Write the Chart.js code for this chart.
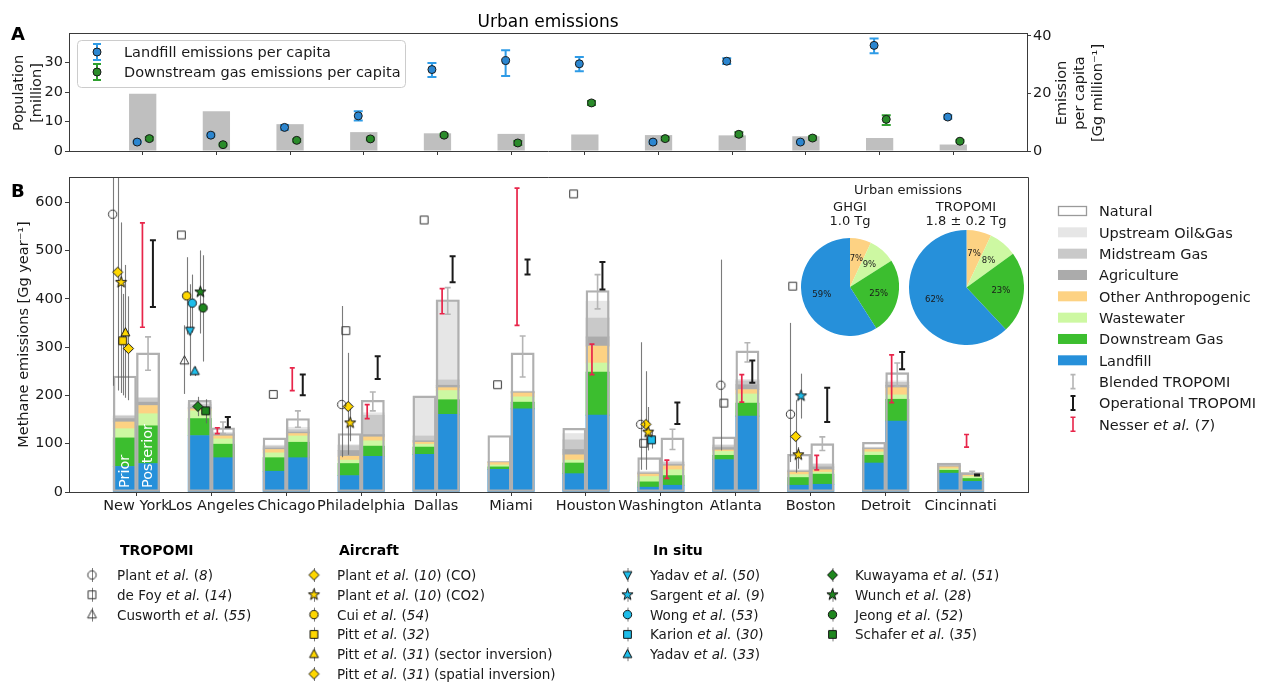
<!DOCTYPE html>
<html><head><meta charset="utf-8">
<script src="https://cdn.jsdelivr.net/npm/chart.js@4.4.0/dist/chart.umd.min.js"></script>
<style>
html,body{margin:0;padding:0;background:#fff;}
#wrap{position:relative;width:1265px;height:684px;overflow:hidden;background:#fff;}
canvas{position:absolute;}
</style></head><body>
<div id="wrap">
<canvas id="cB" width="1265" height="684" style="left:0;top:0"></canvas>
<canvas id="cA" width="1265" height="165" style="left:0;top:0"></canvas>
<canvas id="pieG" width="98" height="98" style="left:801px;top:238px"></canvas>
<canvas id="pieT" width="115" height="115" style="left:909px;top:230px"></canvas>
</div>
<script>
// ---------------- DATA ----------------
const cities = ['New York','Los Angeles','Chicago','Philadelphia','Dallas','Miami','Houston','Washington','Atlanta','Boston','Detroit','Cincinnati'];

// Panel A
const population = [19.4, 13.5, 9.1, 6.4, 6.0, 5.8, 5.6, 5.4, 5.3, 5.0, 4.4, 2.2];
const landfillPC   = [3.1, 5.5, 8.2, 12.2, 28.3, 31.4, 30.3, 3.1, 31.2, 3.1, 36.7, 11.8];
const landfillPCLo = [2.7, 5.0, 7.4, 10.6, 25.7, 26.1, 27.7, 2.6, 30.2, 2.6, 34.0, 11.2];
const landfillPCHi = [3.5, 6.0, 9.0, 13.8, 30.6, 35.0, 32.7, 3.6, 32.2, 3.6, 39.1, 12.4];
const gasPC   = [4.3, 2.2, 3.7, 4.2, 5.5, 2.8, 16.7, 4.3, 5.8, 4.5, 11.0, 3.4];
const gasPCLo = [3.7, 1.8, 3.2, 3.7, 5.0, 2.1, 16.0, 3.7, 5.1, 3.9, 9.0, 3.0];
const gasPCHi = [4.9, 2.6, 4.2, 4.7, 6.0, 3.5, 17.4, 4.9, 6.5, 5.1, 12.4, 3.8];
const popTicks = [0, 10, 20, 30];
const emTicks = [0, 20, 40];

// Panel B stacked components (prior / posterior), Gg/yr
const landfillPrior   = [53,117,43,34,78,47,38,10,67,14,60,39];
const landfillPost    = [59,71,71,74,161,172,159,14,157,16,147,22];
const downstreamPrior = [59,35,28,25,15,5,22,11,9,16,16,6];
const downstreamPost  = [78,28,32,21,30,14,89,20,27,21,45,6];
const wastewaterPrior = [19,16,10,7,6,4,6,11,8,6,7,3];
const wastewaterPost  = [25,11,13,11,19,11,19,12,19,4,9,4];
const otherPrior = [14,4,7,8,4,5,11,5,3,5,5,4];
const otherPost  = [17,6,5,8,6,8,35,8,9,5,15,3];
const agriPrior = [7,3,3,12,3,1,11,2,5,2,2,2];
const agriPost  = [7,3,3,5,5,2,19,3,10,6,5,3];
const midPrior = [5,6,4,10,10,1,20,2,4,2,2,2];
const midPost  = [8,3,5,40,11,1,39,4,8,5,6,1];
const upPrior = [2,5,2,2,82,0,13,2,2,1,1,1];
const upPost  = [2,1,5,5,165,1,35,3,3,2,3,1];
const naturalPrior = [81,4,15,23,1,54,11,28,16,32,10,3];
const naturalPost  = [92,10,18,26,1,79,22,48,59,41,17,0];
const yTicksB = [0,100,200,300,400,500,600];

// Error-bar estimates (low / high)
const blendedLo = [252,121,134,168,368,238,379,88,269,86,219,37];
const blendedHi = [321,145,168,207,423,323,450,130,309,114,267,43];
const operationalLo = [383,134,200,234,434,450,419,141,226,145,254,34];
const operationalHi = [521,155,243,281,488,481,476,185,272,216,290,36];
const nesserLo = [341,121,210,152,369,345,243,28,186,46,185,93];
const nesserHi = [557,133,257,181,421,629,306,66,243,76,284,119];

// Independent estimates: city, position within city slot, value, low, high, reference
const obsCity   = [0,0,0,0,0,0, 1,1,1,1,1,1,1,1,1,1, 2, 3,3,3,3, 4, 5, 6, 7,7,7,7,7, 8,8, 9,9,9,9,9];
const obsOffset = [-0.317,-0.25,-0.205,-0.183,-0.147,-0.107, -0.40,-0.36,-0.33,-0.285,-0.255,-0.22,-0.18,-0.147,-0.11,-0.076, -0.173, -0.26,-0.205,-0.174,-0.147, -0.16, -0.18, -0.165, -0.27,-0.23,-0.2,-0.17,-0.125, -0.2,-0.16, -0.27,-0.24,-0.2,-0.165,-0.13];
const obsValue  = [575,455,434,313,330,297, 532,272,406,334,391,250,177,414,381,168, 202, 181,334,177,143, 563, 222, 617, 140,101,140,124,108, 221,184, 161,426,115,77,199];
const obsLow    = [220,210,205,200,195,190, 532,203,326,240,330,240,157,328,270,142, 202, 72,334,77,105, 563,222,617, 46,101,46,86,90, 86,184, 62,426,40,48,152];
const obsHigh   = [930,700,558,410,470,405, 532,345,486,430,450,260,197,500,490,192, 202, 385,334,288,175, 563,222,617, 310,101,250,176,126, 481,184, 350,426,190,93,245];
const obsRef    = [0,3,4,6,7,8, 1,2,5,9,11,13,14,15,16,17, 1, 0,1,3,4, 1,1,1, 0,1,3,4,12, 0,1, 0,1,3,4,10];

const refLabels = ['Plant *et al.* (*8*)','de Foy *et al.* (*14*)','Cusworth *et al.* (*55*)',
  'Plant *et al.* (*10*) (CO)','Plant *et al.* (*10*) (CO2)','Cui *et al.* (*54*)','Pitt *et al.* (*32*)',
  'Pitt *et al.* (*31*) (sector inversion)','Pitt *et al.* (*31*) (spatial inversion)',
  'Yadav *et al.* (*50*)','Sargent *et al.* (*9*)','Wong *et al.* (*53*)','Karion *et al.* (*30*)','Yadav *et al.* (*33*)',
  'Kuwayama *et al.* (*51*)','Wunch *et al.* (*28*)','Jeong *et al.* (*52*)','Schafer *et al.* (*35*)'];

// Pies
const pieLabels = ['Other Anthropogenic','Wastewater','Downstream Gas','Landfill'];
const ghgiShares = [7, 9, 25, 59];
const tropomiShares = [7, 8, 23, 62];

// ---------------- STYLE ----------------
const FAM = "'DejaVu Sans', sans-serif";
Chart.defaults.font.family = FAM;
const TXT = '#1a1a1a', SPINE = '#3a3a3a';
const C = {landfill:'#2690da', down:'#3cbe2f', waste:'#cdf8a2', other:'#fdd283', agri:'#ababab', mid:'#c9c9c9', up:'#e6e6e6', nat:'#ffffff'};
const YEL = '#ffd700', BLU = '#1ebdea', GRN = '#1e861e';
const refShapes = ['circle','square','triangle','diamond','star','circle','square','triangle','diamond','triangleDown','star','circle','square','triangle','diamond','star','circle','square'];
const refFill = [null,null,null,YEL,YEL,YEL,YEL,YEL,YEL,BLU,BLU,BLU,BLU,BLU,GRN,GRN,GRN,GRN];

function markerCanvas(shape, fill, stroke, r) {
  const S = Math.ceil(r * 3) + 4;
  const c = document.createElement('canvas'); c.width = S; c.height = S;
  const g = c.getContext('2d'); g.translate(S/2, S/2);
  g.beginPath();
  if (shape === 'circle') g.arc(0,0,r,0,Math.PI*2);
  else if (shape === 'square') g.rect(-r*0.92,-r*0.92,r*1.84,r*1.84);
  else if (shape === 'diamond') { const d=r*1.22; g.moveTo(0,-d); g.lineTo(d,0); g.lineTo(0,d); g.lineTo(-d,0); g.closePath(); }
  else if (shape === 'triangle') { g.moveTo(0,-r*1.15); g.lineTo(r*1.05,r*0.8); g.lineTo(-r*1.05,r*0.8); g.closePath(); }
  else if (shape === 'triangleDown') { g.moveTo(0,r*1.15); g.lineTo(r*1.05,-r*0.8); g.lineTo(-r*1.05,-r*0.8); g.closePath(); }
  else if (shape === 'star') {
    for (let k=0;k<10;k++){ const a=-Math.PI/2 + k*Math.PI/5; const rr = k%2 ? r*0.55 : r*1.4; const px=Math.cos(a)*rr, py=Math.sin(a)*rr; k?g.lineTo(px,py):g.moveTo(px,py);} g.closePath();
  }
  if (fill) { g.fillStyle = fill; g.fill(); }
  g.lineWidth = 1; g.strokeStyle = stroke; g.stroke();
  return c;
}
const refMarkers = refShapes.map((s,i)=>markerCanvas(s, refFill[i], refFill[i] ? '#111' : '#333', 4.2));

function drawRich(ctx, str, x, y, size, color) {
  const parts = str.split('*'); let cx = x;
  ctx.fillStyle = color || TXT; ctx.textAlign = 'left'; ctx.textBaseline = 'alphabetic';
  parts.forEach((p,k)=>{ if(!p) return; ctx.font = (k%2 ? 'italic ' : '') + size + 'px ' + FAM; ctx.fillText(p, cx, y); cx += ctx.measureText(p).width; });
}
function rotText(ctx, text, x, y, font, color, align) {
  ctx.save(); ctx.translate(x,y); ctx.rotate(-Math.PI/2); ctx.font = font; ctx.fillStyle = color;
  ctx.textAlign = align || 'center'; ctx.textBaseline = 'middle'; ctx.fillText(text,0,0); ctx.restore();
}
function vbar(ctx, x, y1, y2, cap, color, lw) {
  ctx.strokeStyle = color; ctx.lineWidth = lw; ctx.beginPath();
  ctx.moveTo(x, y1); ctx.lineTo(x, y2);
  ctx.moveTo(x-cap, y1); ctx.lineTo(x+cap, y1);
  ctx.moveTo(x-cap, y2); ctx.lineTo(x+cap, y2);
  ctx.stroke();
}

// ---------------- PANEL B ----------------
const PRI = -0.155, POST = 0.155;
const comps = [
  ['Landfill', landfillPrior, landfillPost, C.landfill],
  ['Downstream Gas', downstreamPrior, downstreamPost, C.down],
  ['Wastewater', wastewaterPrior, wastewaterPost, C.waste],
  ['Other Anthropogenic', otherPrior, otherPost, C.other],
  ['Agriculture', agriPrior, agriPost, C.agri],
  ['Midstream Gas', midPrior, midPost, C.mid],
  ['Upstream Oil&Gas', upPrior, upPost, C.up],
  ['Natural', naturalPrior, naturalPost, C.nat]
];
const pairData = (pri, post) => cities.flatMap((c,i)=>[{x:i+PRI, y:pri[i]}, {x:i+POST, y:post[i]}]);
const totalPrior = cities.map((c,i)=>comps.reduce((s,cm)=>s+cm[1][i],0));
const totalPost  = cities.map((c,i)=>comps.reduce((s,cm)=>s+cm[2][i],0));

const datasetsB = comps.map(cm=>({
  type:'bar', label:cm[0], data:pairData(cm[1],cm[2]), backgroundColor:cm[3], borderWidth:0,
  stack:'comp', grouped:false, barPercentage:1, categoryPercentage:1, yAxisID:'y', order:1
}));
datasetsB.push({type:'bar', label:'outline', data:pairData(totalPrior,totalPost), backgroundColor:'rgba(0,0,0,0)',
  borderColor:'#b0b0b0', borderWidth:1.7, borderSkipped:false, stack:'outline', grouped:false, barPercentage:1, categoryPercentage:1, yAxisID:'y', order:0});
refLabels.forEach((lab,r)=>{
  const pts = [];
  obsValue.forEach((v,k)=>{ if (obsRef[k]===r) pts.push({x:obsCity[k]+obsOffset[k], y:v}); });
  datasetsB.push({type:'scatter', label:lab, data:pts, pointStyle:refMarkers[r], pointRadius:4, yAxisID:'yo', order:-5});
});

const bPlugin = {
  id:'bDeco',
  beforeDatasetsDraw(chart){ chart.$errDone = false; },
  beforeDatasetDraw(chart, args){
    if (chart.$errDone || args.meta.type !== 'scatter') return;
    chart.$errDone = true;
    const ctx = chart.ctx, xs = chart.scales.x, ys = chart.scales.yo, a = chart.chartArea;
    ctx.save(); ctx.beginPath(); ctx.rect(a.left, a.top, a.right-a.left, a.bottom-a.top); ctx.clip();
    rotText(ctx, 'Prior', xs.getPixelForValue(0+PRI), ys.getPixelForValue(0)-4, '14.5px '+FAM, '#ffffff', 'left');
    rotText(ctx, 'Posterior', xs.getPixelForValue(0+POST), ys.getPixelForValue(0)-4, '14.5px '+FAM, '#ffffff', 'left');
    ctx.strokeStyle = 'rgba(100,100,100,0.85)'; ctx.lineWidth = 1.1;
    obsValue.forEach((v,k)=>{
      if (obsLow[k] === obsHigh[k]) return;
      const px = Math.round(xs.getPixelForValue(obsCity[k]+obsOffset[k])) + 0.5;
      ctx.beginPath(); ctx.moveTo(px, ys.getPixelForValue(obsLow[k])); ctx.lineTo(px, ys.getPixelForValue(obsHigh[k])); ctx.stroke();
    });
    cities.forEach((c,i)=>{
      vbar(ctx, xs.getPixelForValue(i+POST), ys.getPixelForValue(blendedLo[i]), ys.getPixelForValue(blendedHi[i]), 3, '#b5b5b5', 1.6);
      vbar(ctx, xs.getPixelForValue(i+0.08), ys.getPixelForValue(nesserLo[i]), ys.getPixelForValue(nesserHi[i]), 2.5, '#e8254a', 1.7);
      vbar(ctx, xs.getPixelForValue(i+0.22), ys.getPixelForValue(operationalLo[i]), ys.getPixelForValue(operationalHi[i]), 3, '#1a1a1a', 2);
    });
    ctx.restore();
  },
  afterDraw(chart){
    const ctx = chart.ctx, a = chart.chartArea;
    ctx.save();
    ctx.strokeStyle = SPINE; ctx.lineWidth = 1; ctx.beginPath();
    ctx.moveTo(a.left, a.top+0.5); ctx.lineTo(a.right+0.5, a.top+0.5); ctx.lineTo(a.right+0.5, a.bottom); ctx.stroke();
    ctx.fillStyle = '#000'; ctx.font = 'bold 18px '+FAM; ctx.textAlign='left'; ctx.textBaseline='alphabetic';
    ctx.fillText('B', 11, 197);
    rotText(ctx, 'Methane emissions [Gg year⁻¹]', 24, (a.top+a.bottom)/2, '14.5px '+FAM, TXT);
    ctx.fillStyle = TXT; ctx.textAlign='center'; ctx.font = '13px '+FAM;
    ctx.fillText('Urban emissions', 908, 194);
    ctx.fillText('GHGI', 850, 211); ctx.fillText('1.0 Tg', 850, 225);
    ctx.fillText('TROPOMI', 966, 211); ctx.fillText('1.8 ± 0.2 Tg', 966, 225);
    const leg = [['Natural','box',C.nat],['Upstream Oil&Gas','box',C.up],['Midstream Gas','box',C.mid],['Agriculture','box',C.agri],
      ['Other Anthropogenic','box',C.other],['Wastewater','box',C.waste],['Downstream Gas','box',C.down],['Landfill','box',C.landfill],
      ['Blended TROPOMI','err','#b5b5b5'],['Operational TROPOMI','err','#1a1a1a'],['Nesser *et al.* (*7*)','err','#e8254a']];
    leg.forEach((it,k)=>{
      const cy = 211 + k*21.33;
      if (it[1]==='box') {
        ctx.fillStyle = it[2]; ctx.fillRect(1058, cy-5, 29, 10);
        if (k===0) { ctx.strokeStyle='#9a9a9a'; ctx.lineWidth=1.3; ctx.strokeRect(1058.5, cy-4.5, 28, 9); }
      } else {
        vbar(ctx, 1073, cy-7, cy+7, 2.5, it[2], k===9?2:1.6);
      }
      drawRich(ctx, it[0], 1099, cy+5.3, 14.5, TXT);
    });
    ctx.font = 'bold 14px '+FAM; ctx.fillStyle='#000'; ctx.textAlign='left';
    ctx.fillText('TROPOMI', 120, 555); ctx.fillText('Aircraft', 339, 555); ctx.fillText('In situ', 653, 555);
    const cols = [[92,117,[0,1,2]],[314,337,[3,4,5,6,7,8]],[627.5,650,[9,10,11,12,13]],[832.5,855,[14,15,16,17]]];
    cols.forEach(col=>{
      col[2].forEach((r,j)=>{
        const cy = 575 + j*19.8;
        ctx.strokeStyle='rgba(100,100,100,0.85)'; ctx.lineWidth=1; ctx.beginPath(); ctx.moveTo(col[0]+0.5, cy-7); ctx.lineTo(col[0]+0.5, cy+7); ctx.stroke();
        const m = refMarkers[r]; ctx.drawImage(m, col[0]-m.width/2, cy-m.height/2);
        drawRich(ctx, refLabels[r], col[1], cy+5, 13.5, TXT);
      });
    });
    ctx.restore();
  }
};

new Chart(document.getElementById('cB'), {
  type:'bar',
  data:{datasets:datasetsB},
  options:{
    responsive:false, animation:false, events:[],
    layout:{padding:{left:0, top:177, right:237, bottom:162}},
    plugins:{legend:{display:false}, tooltip:{enabled:false}},
    scales:{
      x:{type:'linear', min:-0.9, max:11.9, offset:false,
         afterBuildTicks:ax=>{ ax.ticks = cities.map((c,i)=>({value:i})); },
         ticks:{autoSkip:false, maxRotation:0, padding:2, color:TXT, font:{size:14.5}, callback:v=>cities[v]},
         grid:{drawOnChartArea:false, offset:false, tickLength:4, color:SPINE},
         border:{color:SPINE, width:1},
         afterFit:ax=>{ ax.height = 30; }},
      y:{type:'linear', stacked:true, min:0, max:652,
         afterBuildTicks:ax=>{ ax.ticks = yTicksB.map(v=>({value:v})); },
         ticks:{padding:2, color:TXT, font:{size:14.5}},
         grid:{drawOnChartArea:false, tickLength:4, color:SPINE},
         border:{color:SPINE, width:1},
         afterFit:ax=>{ ax.width = 69; }},
      yo:{type:'linear', display:false, min:0, max:652}
    }
  },
  plugins:[bPlugin]
});

// ---------------- PANEL A ----------------
const LOFF = -0.075, GOFF = 0.09;
const aPlugin = {
  id:'aDeco',
  beforeDatasetsDraw(chart){ chart.$errDone = false; },
  beforeDatasetDraw(chart,args){
    if (chart.$errDone || args.meta.type !== 'scatter') return;
    chart.$errDone = true;
    const ctx = chart.ctx, xs = chart.scales.x, ys = chart.scales.yEm;
    ctx.save();
    cities.forEach((c,i)=>{
      vbar(ctx, xs.getPixelForValue(i+LOFF), ys.getPixelForValue(landfillPCLo[i]), ys.getPixelForValue(landfillPCHi[i]), 4.5, '#2e9be6', 2);
      vbar(ctx, xs.getPixelForValue(i+GOFF), ys.getPixelForValue(gasPCLo[i]), ys.getPixelForValue(gasPCHi[i]), 4.5, '#2fa02f', 2);
    });
    ctx.restore();
  },
  afterDraw(chart){
    const ctx = chart.ctx, a = chart.chartArea;
    ctx.save();
    ctx.strokeStyle = SPINE; ctx.lineWidth = 1; ctx.beginPath(); ctx.moveTo(a.left, a.top+0.5); ctx.lineTo(a.right, a.top+0.5); ctx.stroke();
    ctx.fillStyle = '#000'; ctx.font = '17px '+FAM; ctx.textAlign='center'; ctx.textBaseline='alphabetic';
    ctx.fillText('Urban emissions', (a.left+a.right)/2, 27);
    ctx.font = 'bold 18px '+FAM; ctx.textAlign='left'; ctx.fillText('A', 11, 40);
    rotText(ctx, 'Population', 19, 93, '14.5px '+FAM, TXT);
    rotText(ctx, '[million]', 37, 93, '14.5px '+FAM, TXT);
    rotText(ctx, 'Emission', 1062, 93, '14.5px '+FAM, TXT);
    rotText(ctx, 'per capita', 1080, 93, '14.5px '+FAM, TXT);
    rotText(ctx, '[Gg million⁻¹]', 1098, 93, '14.5px '+FAM, TXT);
    ctx.beginPath(); ctx.roundRect(77.5, 40.5, 328, 47, 4); ctx.fillStyle='rgba(255,255,255,0.85)'; ctx.fill();
    ctx.strokeStyle='#cccccc'; ctx.lineWidth=1; ctx.stroke();
    const rows = [['Landfill emissions per capita','#2e9be6','#2b86d0',52],['Downstream gas emissions per capita','#2fa02f','#2a8c2a',72]];
    rows.forEach(r=>{
      vbar(ctx, 97, r[3]-8, r[3]+8, 4, r[1], 2);
      ctx.beginPath(); ctx.arc(97, r[3], 4, 0, Math.PI*2); ctx.fillStyle=r[2]; ctx.fill(); ctx.strokeStyle='#1a1a1a'; ctx.lineWidth=1; ctx.stroke();
      drawRich(ctx, r[0], 124, r[3]+5.3, 14.5, TXT);
    });
    ctx.restore();
  }
};

new Chart(document.getElementById('cA'), {
  type:'bar',
  data:{datasets:[
    {type:'bar', label:'Population', data:population.map((v,i)=>({x:i,y:v})), backgroundColor:'#bfbfbf', borderWidth:0,
     grouped:false, barPercentage:0.37, categoryPercentage:1, yAxisID:'yPop', order:2},
    {type:'scatter', label:'Landfill emissions per capita', data:landfillPC.map((v,i)=>({x:i+LOFF,y:v})), yAxisID:'yEm',
     pointRadius:4, pointBackgroundColor:'#2b86d0', pointBorderColor:'#1a1a1a', pointBorderWidth:1, order:-1},
    {type:'scatter', label:'Downstream gas emissions per capita', data:gasPC.map((v,i)=>({x:i+GOFF,y:v})), yAxisID:'yEm',
     pointRadius:4, pointBackgroundColor:'#2a8c2a', pointBorderColor:'#1a1a1a', pointBorderWidth:1, order:-1}
  ]},
  options:{
    responsive:false, animation:false, events:[],
    layout:{padding:{left:0, top:33, right:198, bottom:2}},
    plugins:{legend:{display:false}, tooltip:{enabled:false}},
    scales:{
      x:{type:'linear', min:-1, max:12, offset:false,
         afterBuildTicks:ax=>{ ax.ticks = cities.map((c,i)=>({value:i})); },
         ticks:{autoSkip:false, maxRotation:0, callback:()=>''},
         grid:{drawOnChartArea:false, offset:false, tickLength:4, color:SPINE},
         border:{color:SPINE, width:1},
         afterFit:ax=>{ ax.height = 12; }},
      yPop:{type:'linear', position:'left', min:0, max:40,
         afterBuildTicks:ax=>{ ax.ticks = popTicks.map(v=>({value:v})); },
         ticks:{padding:2, color:TXT, font:{size:14.5}},
         grid:{drawOnChartArea:false, tickLength:4, color:SPINE},
         border:{color:SPINE, width:1},
         afterFit:ax=>{ ax.width = 69; }},
      yEm:{type:'linear', position:'right', min:0, max:41,
         afterBuildTicks:ax=>{ ax.ticks = emTicks.map(v=>({value:v})); },
         ticks:{padding:2, color:TXT, font:{size:14.5}},
         grid:{drawOnChartArea:false, tickLength:4, color:SPINE},
         border:{color:SPINE, width:1},
         afterFit:ax=>{ ax.width = 40; }}
    }
  },
  plugins:[aPlugin]
});

// ---------------- PIES ----------------
const pctPlugin = {
  id:'pct',
  afterDatasetsDraw(chart){
    const ctx = chart.ctx, meta = chart.getDatasetMeta(0), vals = chart.data.datasets[0].data;
    ctx.save(); ctx.font = '8.5px '+FAM; ctx.fillStyle = TXT; ctx.textAlign='center'; ctx.textBaseline='middle';
    meta.data.forEach((arc,i)=>{
      const p = arc.getProps(['x','y','startAngle','endAngle','outerRadius'], true);
      const m = (p.startAngle+p.endAngle)/2;
      ctx.fillText(vals[i]+'%', p.x+Math.cos(m)*p.outerRadius*0.6, p.y+Math.sin(m)*p.outerRadius*0.6);
    });
    ctx.restore();
  }
};
function makePie(id, shares) {
  new Chart(document.getElementById(id), {
    type:'pie',
    data:{labels:pieLabels, datasets:[{data:shares, backgroundColor:[C.other, C.waste, C.down, C.landfill], borderWidth:0}]},
    options:{responsive:false, animation:false, events:[], layout:{padding:0}, plugins:{legend:{display:false}, tooltip:{enabled:false}}},
    plugins:[pctPlugin]
  });
}
makePie('pieG', ghgiShares);
makePie('pieT', tropomiShares);
</script>
</body></html>
